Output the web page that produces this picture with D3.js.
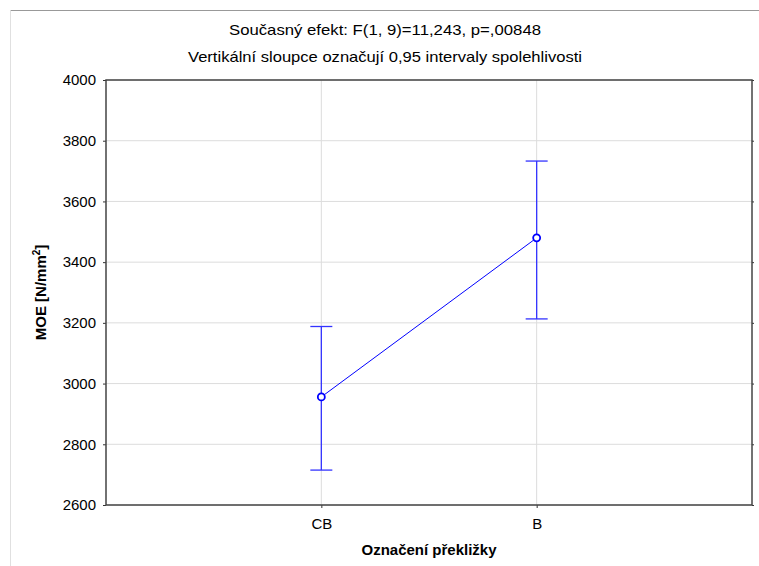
<!DOCTYPE html>
<html>
<head>
<meta charset="utf-8">
<script src="https://cdn.jsdelivr.net/npm/d3@7"></script>
<style>
  body { margin: 0; background: #fff; }
  svg text { font-family: "Liberation Sans", Arial, sans-serif; }
</style>
</head>
<body>
<svg id="chart" width="759" height="566"></svg>
<script>
// data
const categories = ['CB', 'B'];
const means = [2956, 3480];
const ciLower = [2715, 3213];
const ciUpper = [3188, 3733];
const yTicks = [2600, 2800, 3000, 3200, 3400, 3600, 3800, 4000];

const titleLines = [
  'Současný efekt: F(1, 9)=11,243, p=,00848',
  'Vertikální sloupce označují 0,95 intervaly spolehlivosti'
];
const titleWidths = [312, 394];

const svg = d3.select('#chart');
const margin = { top: 80, right: 7, bottom: 61, left: 106 };
const width = 759;
const height = 566;
const innerWidth = width - margin.left - margin.right;
const innerHeight = height - margin.top - margin.bottom;

// outer frame (top + left edges visible)
svg.append('line').attr('x1', 10.5).attr('x2', width).attr('y1', 10.5).attr('y2', 10.5)
  .attr('stroke', '#999').attr('stroke-width', 1);
svg.append('line').attr('x1', 10.5).attr('x2', 10.5).attr('y1', 10.5).attr('y2', height)
  .attr('stroke', '#e0e0e0').attr('stroke-width', 1);

const xScale = d3.scalePoint().domain(categories).range([0, innerWidth]).padding(1);
const yScale = d3.scaleLinear().domain([2600, 4000]).range([innerHeight, 0]);

const grp = svg.append('g')
  .attr('transform', 'translate(' + margin.left + ',' + margin.top + ')');

// grid
grp.append('g').selectAll('line.hg').data(yTicks).enter().append('line')
  .attr('x1', 0).attr('x2', innerWidth)
  .attr('y1', (d) => yScale(d)).attr('y2', (d) => yScale(d))
  .attr('stroke', '#dcdcdc').attr('stroke-width', 1);
grp.append('g').selectAll('line.vg').data(categories).enter().append('line')
  .attr('x1', (d) => xScale(d)).attr('x2', (d) => xScale(d))
  .attr('y1', 0).attr('y2', innerHeight)
  .attr('stroke', '#dcdcdc').attr('stroke-width', 1);

// axes
const yAxis = grp.append('g')
  .call(d3.axisLeft(yScale).tickValues(yTicks).tickSize(3).tickPadding(7).tickFormat(d3.format('d')));
yAxis.select('.domain').remove();
yAxis.selectAll('line').attr('stroke', '#333');
yAxis.selectAll('text').style('font-size', '15px').attr('fill', '#000');

const yAxisR = grp.append('g').attr('transform', 'translate(' + innerWidth + ',0)')
  .call(d3.axisRight(yScale).tickValues(yTicks).tickSize(2).tickFormat(''));
yAxisR.select('.domain').remove();
yAxisR.selectAll('line').attr('stroke', '#333');

const xAxis = grp.append('g').attr('transform', 'translate(0,' + innerHeight + ')')
  .call(d3.axisBottom(xScale).tickSize(3).tickPadding(10));
xAxis.select('.domain').remove();
xAxis.selectAll('line').attr('stroke', '#333');
xAxis.selectAll('text').style('font-size', '15px').attr('fill', '#000');

// plot frame
grp.append('rect').attr('x', 0).attr('y', 0)
  .attr('width', innerWidth).attr('height', innerHeight)
  .attr('fill', 'none').attr('stroke', '#444').attr('stroke-width', 1.5);

// error bars
const bars = grp.append('g').selectAll('g').data(categories).enter().append('g');
bars.append('line')
  .attr('x1', (d) => xScale(d)).attr('x2', (d) => xScale(d))
  .attr('y1', (d, i) => yScale(ciUpper[i])).attr('y2', (d, i) => yScale(ciLower[i]))
  .attr('stroke', '#3333ff').attr('stroke-width', 1.3);
bars.append('line')
  .attr('x1', (d) => xScale(d) - 11).attr('x2', (d) => xScale(d) + 11)
  .attr('y1', (d, i) => yScale(ciUpper[i])).attr('y2', (d, i) => yScale(ciUpper[i]))
  .attr('stroke', '#3333ff').attr('stroke-width', 1.3);
bars.append('line')
  .attr('x1', (d) => xScale(d) - 11).attr('x2', (d) => xScale(d) + 11)
  .attr('y1', (d, i) => yScale(ciLower[i])).attr('y2', (d, i) => yScale(ciLower[i]))
  .attr('stroke', '#3333ff').attr('stroke-width', 1.3);

// mean line
const line = d3.line()
  .x((d, i) => xScale(categories[i]))
  .y((d) => yScale(d));
grp.append('path').datum(means).attr('d', line)
  .attr('fill', 'none').attr('stroke', '#0000ff').attr('stroke-width', 1);

grp.append('g').selectAll('circle').data(means).enter().append('circle')
  .attr('cx', (d, i) => xScale(categories[i]))
  .attr('cy', (d) => yScale(d))
  .attr('r', 3.5)
  .attr('fill', '#fff').attr('stroke', '#0000ff').attr('stroke-width', 1.8);

// titles
svg.selectAll('text.title').data(titleLines).enter().append('text')
  .attr('class', 'title')
  .attr('x', 385).attr('y', (d, i) => 35 + i * 27)
  .attr('text-anchor', 'middle')
  .attr('textLength', (d, i) => titleWidths[i])
  .attr('lengthAdjust', 'spacingAndGlyphs')
  .style('font-size', '15px')
  .text((d) => d);

svg.append('text')
  .attr('x', margin.left + innerWidth / 2).attr('y', 555)
  .attr('text-anchor', 'middle')
  .style('font-size', '15px').style('font-weight', 'bold')
  .text('Označení překližky');

const yLabel = svg.append('text')
  .attr('transform', 'translate(46,' + (margin.top + innerHeight / 2) + ') rotate(-90)')
  .attr('text-anchor', 'middle')
  .style('font-size', '15px').style('font-weight', 'bold');
yLabel.append('tspan').text('MOE [N/mm');
yLabel.append('tspan').attr('dy', -6).style('font-size', '10px').text('2');
yLabel.append('tspan').attr('dy', 6).text(']');
</script>
</body>
</html>
